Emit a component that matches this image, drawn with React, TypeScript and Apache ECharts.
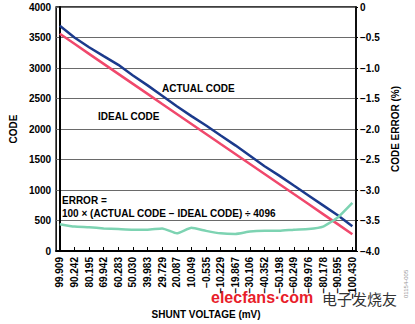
import React, { useEffect, useRef } from "react";
import * as echarts from "echarts";

const xLabels = [
  "99.909", "90.242", "80.195", "69.942", "60.283", "50.030", "39.983",
  "29.729", "20.087", "10.049", "−0.535", "−10.229", "−19.867", "−30.106",
  "−40.352", "−50.198", "−60.249", "−69.976", "−80.178", "−90.595", "−100.430",
];

const actualCode = [
  3691, 3501, 3341, 3195, 3052, 2878, 2715, 2545, 2374, 2211, 2057,
  1894, 1732, 1561, 1390, 1236, 1073, 911, 748, 585, 406,
];

const idealCode = [
  3561, 3397, 3232, 3068, 2904, 2740, 2576, 2411, 2247, 2083, 1919,
  1754, 1590, 1426, 1262, 1098, 933, 769, 605, 441, 276,
];

const codeError = [
  -3.56, -3.60, -3.61, -3.63, -3.64, -3.65, -3.65, -3.63, -3.71, -3.62, -3.67,
  -3.71, -3.72, -3.68, -3.67, -3.67, -3.65, -3.64, -3.60, -3.45, -3.21,
];

const FONT = "'Liberation Sans', Arial, Helvetica, sans-serif";

export default function App() {
  const ref = useRef<HTMLDivElement>(null);
  useEffect(() => {
    if (!ref.current) return;
    const chart = echarts.init(ref.current, null, { renderer: "svg" });
    const idx = xLabels.map((_, i) => i);
    const pair = (arr: number[]) => arr.map((v, i) => [i, v]);
    chart.setOption({
      animation: false,
      backgroundColor: "#fff",
      textStyle: { fontFamily: FONT },
      grid: {
        left: 48, right: 59, top: 7, bottom: 71,
        show: true, borderColor: "#000", borderWidth: 1.5,
      },
      xAxis: {
        type: "value",
        min: -0.25,
        max: 20.25,
        name: "SHUNT VOLTAGE (mV)",
        nameLocation: "middle",
        nameGap: 58,
        nameTextStyle: { fontFamily: FONT, fontWeight: "bold", fontSize: 10, color: "#000" },
        axisLine: { show: true, lineStyle: { color: "#000", width: 2 } },
        axisTick: { show: true, inside: true, length: 4, customValues: idx, lineStyle: { color: "#000", width: 1 } },
        axisLabel: {
          customValues: idx,
          rotate: 90,
          margin: 6,
          fontFamily: FONT, fontWeight: "bold", fontSize: 10, color: "#000",
          formatter: (v: number) => xLabels[Math.round(v)] ?? "",
        },
        splitLine: { show: false },
      },
      yAxis: [
        {
          type: "value",
          min: 0, max: 4000, interval: 500,
          name: "CODE",
          nameLocation: "middle",
          nameGap: 36,
          nameRotate: 90,
          nameTextStyle: { fontFamily: FONT, fontWeight: "bold", fontSize: 10, color: "#000" },
          axisLine: { show: true, lineStyle: { color: "#000", width: 2 } },
          axisTick: { show: false },
          axisLabel: {
            margin: 5, fontFamily: FONT, fontWeight: "bold", fontSize: 10, color: "#000",
            formatter: (v: number) => String(v),
          },
          splitLine: { show: true, lineStyle: { color: "#6a6a6a", width: 1 } },
        },
        {
          type: "value",
          position: "right",
          min: -4, max: 0, interval: 0.5,
          name: "CODE ERROR (%)",
          nameLocation: "middle",
          nameGap: 33,
          nameRotate: 90,
          nameTextStyle: { fontFamily: FONT, fontWeight: "bold", fontSize: 10, color: "#000" },
          axisLine: { show: true, lineStyle: { color: "#000", width: 1.5 } },
          axisTick: { show: true, length: 2, lineStyle: { color: "#000" } },
          axisLabel: {
            margin: 4,
            fontFamily: FONT, fontWeight: "bold", fontSize: 10, color: "#000",
            formatter: (v: number) => (v === 0 ? "0" : "−" + Math.abs(v).toFixed(1)),
          },
          splitLine: { show: false },
        },
      ],
      series: [
        {
          name: "ACTUAL CODE", type: "line", data: pair(actualCode),
          showSymbol: false, lineStyle: { color: "#1b3a8c", width: 2.5 }, z: 3,
        },
        {
          name: "IDEAL CODE", type: "line", data: pair(idealCode),
          showSymbol: false, lineStyle: { color: "#f0486c", width: 2.5 }, z: 2,
        },
        {
          name: "CODE ERROR", type: "line", yAxisIndex: 1, data: pair(codeError),
          showSymbol: false, smooth: 0.15, lineStyle: { color: "#7dd3b2", width: 2.5 }, z: 4,
        },
      ],
      graphic: [
        { type: "text", left: 162, top: 83, style: { text: "ACTUAL CODE", font: `bold 10px ${FONT}`, fill: "#000" } },
        { type: "text", left: 98, top: 111, style: { text: "IDEAL CODE", font: `bold 10px ${FONT}`, fill: "#000" } },
        { type: "text", left: 62, top: 195, style: { text: "ERROR =", font: `bold 10px ${FONT}`, fill: "#000" } },
        { type: "text", left: 62, top: 208, style: { text: "100 × (ACTUAL CODE − IDEAL CODE) ÷ 4096", font: `bold 10px ${FONT}`, fill: "#000" } },
        { type: "text", left: 211, top: 289, style: { text: "elecfans·com", font: `bold 16px ${FONT}`, fill: "#e8202a" } },
        { type: "text", left: 322, top: 291, style: { text: "电子发烧友", font: `15px 'Noto Sans CJK SC', sans-serif`, fill: "#333" } },
        {
          type: "text", x: 406, y: 298, rotation: Math.PI / 2,
          style: { text: "01154-005", font: `6px ${FONT}`, fill: "#999", textAlign: "left", textVerticalAlign: "middle" },
        },
      ],
    });
    return () => chart.dispose();
  }, []);
  return (
    <div
      ref={ref}
      style={{ position: "fixed", left: 0, top: 0, width: 415, height: 324, background: "#fff" }}
    />
  );
}
